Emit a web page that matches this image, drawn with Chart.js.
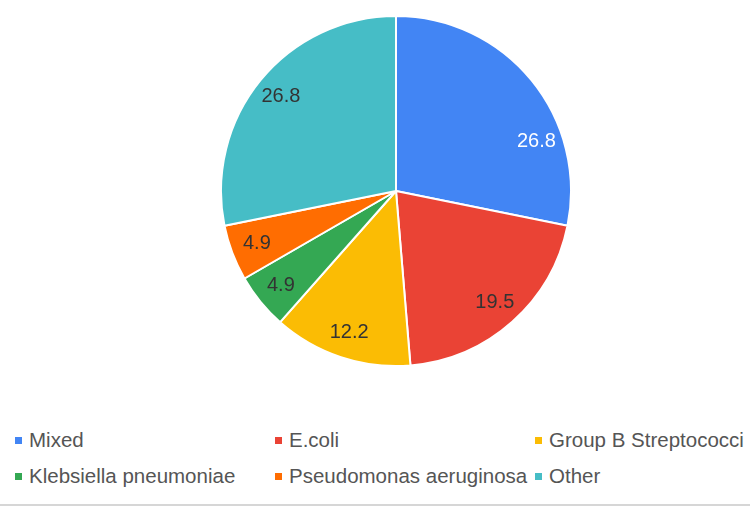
<!DOCTYPE html>
<html lang="en">
<head>
    <meta charset="UTF-8">
    <title>Pie chart</title>
    <script src="https://cdn.jsdelivr.net/npm/chart.js"></script>
    <style>
        body { margin: 0; background: #fff; font-family: "Liberation Sans", Arial, sans-serif; }
        #wrap { position: relative; width: 750px; height: 507px; overflow: hidden; }
        #pieBox { position: absolute; left: 220px; top: 15px; width: 352px; height: 352px; }
        #legend { position: absolute; left: 0; top: 424px; width: 750px; }
        .item { position: absolute; font-size: 20.5px; color: #555; white-space: nowrap; line-height: 32px; }
        .item span.box { display: inline-block; width: 7px; height: 7px; margin-right: 7px; vertical-align: 3px; }
        #rule { position: absolute; left: 0; top: 504px; width: 750px; height: 2px; background: #d6d6d6; }
    </style>
</head>
<body>
<div id="wrap">
    <div id="pieBox"><canvas id="pie"></canvas></div>
    <div id="legend"></div>
    <div id="rule"></div>
</div>
<script>
    const labels = ['Mixed', 'E.coli', 'Group B Streptococci', 'Klebsiella pneumoniae', 'Pseudomonas aeruginosa', 'Other'];
    const values = [26.8, 19.5, 12.2, 4.9, 4.9, 26.8];
    const colors = ['#4285F4', '#EA4335', '#FBBC04', '#34A853', '#FF6D01', '#46BDC6'];
    const labelColors = ['#ffffff', '#333333', '#333333', '#333333', '#333333', '#333333'];
    // the first label sits lower in its slice in the original
    const labelShiftDeg = [20, 0, 0, 0, 0, 0];

    // legend: 3 columns, 2 rows
    const colX = [15, 275, 535];
    const legend = document.getElementById('legend');
    labels.forEach((name, i) => {
        const el = document.createElement('div');
        el.className = 'item';
        el.style.left = colX[i % 3] + 'px';
        el.style.top = (Math.floor(i / 3) * 36) + 'px';
        el.innerHTML = '<span class="box" style="background:' + colors[i] + '"></span>' + name;
        legend.appendChild(el);
    });

    // value labels inside slices
    const sliceLabels = {
        id: 'sliceLabels',
        afterDatasetsDraw(chart) {
            const c = chart.ctx;
            const meta = chart.getDatasetMeta(0);
            c.save();
            c.font = '20px "Liberation Sans", Arial, sans-serif';
            c.textAlign = 'center';
            c.textBaseline = 'middle';
            meta.data.forEach((arc, i) => {
                const mid = (arc.startAngle + arc.endAngle) / 2 + labelShiftDeg[i] * Math.PI / 180;
                const r = arc.outerRadius * 0.85;
                c.fillStyle = labelColors[i];
                c.fillText(values[i].toFixed(1), arc.x + Math.cos(mid) * r, arc.y + Math.sin(mid) * r);
            });
            c.restore();
        }
    };

    new Chart(document.getElementById('pie'), {
        type: 'pie',
        data: {
            labels: labels,
            datasets: [{
                data: values,
                backgroundColor: colors,
                borderColor: '#ffffff',
                borderWidth: 2
            }]
        },
        options: {
            responsive: true,
            maintainAspectRatio: false,
            animation: false,
            layout: { padding: 0 },
            plugins: {
                legend: { display: false },
                tooltip: { enabled: false }
            }
        },
        plugins: [sliceLabels]
    });
</script>
</body>
</html>
